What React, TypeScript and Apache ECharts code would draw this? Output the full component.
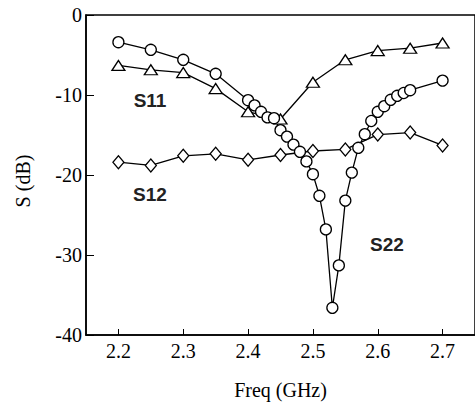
import React, { useEffect, useRef } from "react";
import * as echarts from "echarts";

const freqCircle = [2.2, 2.25, 2.3, 2.35, 2.4, 2.41, 2.42, 2.43, 2.44, 2.45, 2.46, 2.47, 2.48, 2.49, 2.5, 2.51, 2.52, 2.53, 2.54, 2.55, 2.56, 2.57, 2.58, 2.59, 2.6, 2.61, 2.62, 2.63, 2.64, 2.65, 2.7];
const circleValues = [-3.4, -4.35, -5.6, -7.35, -10.65, -11.3, -12.1, -12.8, -12.9, -14.4, -15.2, -16.2, -17.1, -18.3, -19.9, -22.6, -26.8, -36.6, -31.3, -23.2, -19.7, -16.6, -14.9, -13.25, -12.1, -11.4, -10.6, -10.1, -9.75, -9.4, -8.2];
const freqStep = [2.2, 2.25, 2.3, 2.35, 2.4, 2.45, 2.5, 2.55, 2.6, 2.65, 2.7];
const triangleValues = [-6.3, -6.85, -7.2, -9.2, -12.1, -13.0, -8.4, -5.6, -4.45, -4.15, -3.5];
const diamondValues = [-18.4, -18.8, -17.6, -17.35, -18.1, -17.5, -17.0, -16.8, -14.95, -14.7, -16.3];
const xTicks = [2.2, 2.3, 2.4, 2.5, 2.6, 2.7];
const curveLabels = [
  { text: "S11", x: 150, y: 100 },
  { text: "S12", x: 150, y: 194 },
  { text: "S22", x: 387, y: 244 },
];

const serif = "'Liberation Serif', 'Times New Roman', serif";

export default function App() {
  const ref = useRef<HTMLDivElement>(null);
  useEffect(() => {
    if (!ref.current) return;
    const chart = echarts.init(ref.current, null, { renderer: "svg" });
    const markerStyle = { color: "#fff", borderColor: "#000", borderWidth: 1.3 };
    const lineStyle = { color: "#000", width: 1.3 };
    chart.setOption({
      animation: false,
      backgroundColor: "#fff",
      grid: {
        left: 86,
        top: 15,
        width: 390,
        bottom: 68,
        show: true,
        borderColor: "#000",
        borderWidth: 1.5,
        backgroundColor: "transparent",
      },
      xAxis: {
        type: "value",
        min: 2.15,
        max: 2.75,
        name: "Freq (GHz)",
        nameLocation: "middle",
        nameGap: 45,
        nameTextStyle: { fontFamily: serif, fontSize: 20, color: "#000" },
        axisLine: { show: true, onZero: false, lineStyle: { color: "#000", width: 1.5 } },
        axisTick: { show: true, inside: true, length: 6, customValues: xTicks, lineStyle: { color: "#000", width: 1 } },
        axisLabel: {
          customValues: xTicks,
          formatter: (v: number) => v.toFixed(1),
          fontFamily: serif,
          fontSize: 20,
          color: "#000",
          margin: 6,
        },
        splitLine: { show: false },
      },
      yAxis: {
        type: "value",
        min: -40,
        max: 0,
        interval: 10,
        axisLine: { show: true, onZero: false, lineStyle: { color: "#000", width: 1.5 } },
        axisTick: { show: true, inside: true, length: 8, lineStyle: { color: "#000", width: 1 } },
        axisLabel: { fontFamily: serif, fontSize: 20, color: "#000", margin: 4 },
        splitLine: { show: false },
      },
      graphic: [
        {
          type: "text",
          x: 23,
          y: 181,
          rotation: Math.PI / 2,
          style: {
            text: "S (dB)",
            fontFamily: serif,
            fontSize: 20,
            fill: "#000",
            align: "center",
            verticalAlign: "middle",
          },
        },
        ...curveLabels.map((l) => ({
          type: "text",
          x: l.x,
          y: l.y,
          style: {
            text: l.text,
            fontFamily: "'Liberation Sans', Arial, sans-serif",
            fontWeight: "bold",
            fontSize: 19,
            fill: "#222",
            align: "center",
            verticalAlign: "middle",
          },
        })),
      ],
      series: [
        {
          type: "line",
          data: freqStep.map((f, i) => [f, diamondValues[i]]),
          symbol: "diamond",
          symbolSize: [11, 13],
          lineStyle,
          itemStyle: markerStyle,
        },
        {
          type: "line",
          data: freqStep.map((f, i) => [f, triangleValues[i]]),
          symbol: "triangle",
          symbolSize: [13, 10],
          lineStyle,
          itemStyle: markerStyle,
        },
        {
          type: "line",
          data: freqCircle.map((f, i) => [f, circleValues[i]]),
          symbol: "circle",
          symbolSize: 11,
          lineStyle,
          itemStyle: markerStyle,
        },
      ],
    });
    return () => chart.dispose();
  }, []);
  return <div ref={ref} style={{ width: 475, height: 405, position: "absolute", left: 0, top: 0 }} />;
}
